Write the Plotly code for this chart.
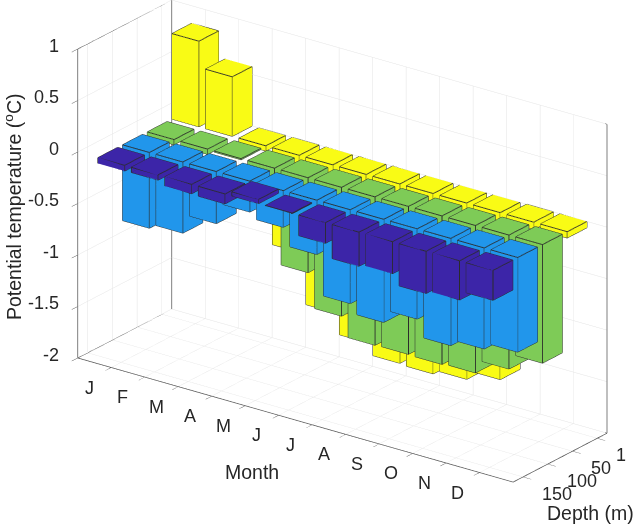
import plotly.graph_objects as go

months = ["J", "F", "M", "A", "M", "J", "J", "A", "S", "O", "N", "D"]
depth_labels = ["1", "50", "100", "150"]
temp_ticks = [-2, -1.5, -1, -0.5, 0, 0.5, 1]
temp_labels = ["-2", "-1.5", "-1", "-0.5", "0", "0.5", "1"]
t_1m = [0.83, 0.577, -0.05, -0.94, -1.43, -1.63, -1.74, -1.75, -1.71, -1.62, -0.07, -0.06]
t_50m = [-0.05, -0.05, -0.01, -0.12, -0.92, -1.25, -1.44, -1.435, -1.44, -1.43, -1.30, -1.15]
t_100m = [-0.735, -0.69, -0.505, -0.30, -0.355, -0.526, -0.91, -1.0, -0.875, -1.04, -0.98, -0.918]
t_150m = [-0.055, -0.05, -0.09, -0.095, 0.04, -0.005, -0.2, -0.33, -0.31, -0.41, -0.38, -0.29]
series = [t_1m, t_50m, t_100m, t_150m]
colors = ["#F9FB15", "#7ECB57", "#2196EB", "#3C25A8"]
EDGE = "#2b2b2b"
W = 0.4
FONT = "Liberation Sans, Arial, sans-serif"
TXT = "#262626"

fig = go.Figure()
for di, (vals, col) in enumerate(zip(series, colors)):
    yc = 4 - di  # depth 1 sits at the back
    X, Y, Z, I, J, K = [], [], [], [], [], []
    ex, ey, ez = [], [], []
    for mi, v in enumerate(vals):
        xc = mi + 1
        lo, hi = min(0, v), max(0, v)
        n = len(X)
        for z in (lo, hi):
            for dx, dy in ((-W, -W), (W, -W), (W, W), (-W, W)):
                X.append(xc + dx); Y.append(yc + dy); Z.append(z)
        quads = [(0, 1, 2, 3), (4, 5, 6, 7), (0, 1, 5, 4), (1, 2, 6, 5), (2, 3, 7, 6), (3, 0, 4, 7)]
        for a, b, c, d in quads:
            I += [n + a, n + a]; J += [n + b, n + c]; K += [n + c, n + d]
        for a, b in [(0, 1), (1, 2), (2, 3), (3, 0), (4, 5), (5, 6), (6, 7), (7, 4), (0, 4), (1, 5), (2, 6), (3, 7)]:
            ex += [X[n + a], X[n + b], None]
            ey += [Y[n + a], Y[n + b], None]
            ez += [Z[n + a], Z[n + b], None]
    fig.add_trace(go.Mesh3d(x=X, y=Y, z=Z, i=I, j=J, k=K, color=col, flatshading=True,
                            lighting=dict(ambient=1, diffuse=0, specular=0, roughness=1, fresnel=0),
                            hoverinfo="skip", showscale=False))
    fig.add_trace(go.Scatter3d(x=ex, y=ey, z=ez, mode="lines", line=dict(color=EDGE, width=1.8),
                               hoverinfo="skip", showlegend=False))

XR, YR, ZR = (0, 13), (0.6, 4.4), (-2, 1)
frame_x = [XR[0], XR[0], XR[1], XR[1], None, XR[0], XR[0], None, XR[1], XR[1], None, XR[0], XR[1]]
frame_y = [YR[0], YR[1], YR[1], YR[0], None, YR[1], YR[1], None, YR[1], YR[1], None, YR[1], YR[1]]
frame_z = [ZR[0], ZR[0], ZR[0], ZR[0], None, ZR[0], ZR[1], None, ZR[0], ZR[1], None, ZR[1], ZR[1]]
fig.add_trace(go.Scatter3d(x=frame_x, y=frame_y, z=frame_z, mode="lines",
                           line=dict(color="#555555", width=1.5), hoverinfo="skip", showlegend=False))
fig.add_trace(go.Scatter3d(x=[XR[0], XR[0], XR[0]], y=[YR[0], YR[0], YR[1]], z=[ZR[0], ZR[1], ZR[1]], mode="lines",
                           line=dict(color="#555555", width=1.5), hoverinfo="skip", showlegend=False))

tf = dict(family=FONT, size=18, color=TXT)
scene_notes = []
for v, s in zip(temp_ticks, temp_labels):
    scene_notes.append(dict(x=XR[0], y=YR[0], z=v, text=s, showarrow=False, font=tf,
                            xanchor="right", xshift=-17, yshift=3))
for v, s in zip(range(1, 13), months):
    scene_notes.append(dict(x=v, y=YR[0], z=ZR[0], text=s, showarrow=False, font=tf,
                            xanchor="center", xshift=-22, yshift=-20))
for v, s in zip([4, 3, 2, 1], depth_labels):
    scene_notes.append(dict(x=XR[1], y=v, z=ZR[0], text=s, showarrow=False, font=tf,
                            xanchor="left", xshift=17, yshift=-17))

axis = dict(showbackground=False, showgrid=True, gridcolor="#e4e4e4", gridwidth=1, zeroline=False,
            showline=True, linecolor="#555555", linewidth=1.5, ticks="outside", ticklen=10, tickcolor="#555555",
            showticklabels=False, title=dict(text=""), showspikes=False)
E = 2.5
C = (-0.0612, -0.0836, -0.0737)
D = (0.549, -0.742, 0.3855)
fig.update_layout(
    width=633, height=524, margin=dict(l=0, r=0, t=0, b=0), showlegend=False,
    paper_bgcolor="white",
    scene=dict(
        domain=dict(x=[0, 1], y=[0, 1]),
        xaxis=dict(axis, range=list(XR), tickmode="array", tickvals=list(range(1, 13))),
        yaxis=dict(axis, range=list(YR), tickmode="array", tickvals=[4, 3, 2, 1]),
        zaxis=dict(axis, range=list(ZR), tickmode="array", tickvals=temp_ticks),
        aspectmode="manual", aspectratio=dict(x=2.067, y=0.603, z=1.278),
        camera=dict(projection=dict(type="orthographic"), up=dict(x=0, y=0, z=1),
                    center=dict(x=C[0], y=C[1], z=C[2]),
                    eye=dict(x=C[0] + D[0] * E, y=C[1] + D[1] * E, z=C[2] + D[2] * E)),
        annotations=scene_notes,
    ),
    annotations=[
        dict(text="Potential temperature (<sup>o</sup>C)", xref="paper", yref="paper", x=13 / 633, y=1 - 207 / 524,
             xanchor="center", yanchor="middle", showarrow=False, textangle=-90,
             font=dict(family=FONT, size=19.5, color=TXT)),
        dict(text="Month", xref="paper", yref="paper", x=252 / 633, y=1 - 472 / 524, xanchor="center",
             yanchor="middle", showarrow=False, font=dict(family=FONT, size=19.5, color=TXT)),
        dict(text="Depth (m)", xref="paper", yref="paper", x=590 / 633, y=1 - 513 / 524, xanchor="center",
             yanchor="middle", showarrow=False, font=dict(family=FONT, size=19.5, color=TXT)),
    ],
)
fig.write_html("out.html", post_script="document.body.style.margin='0';", config={"displayModeBar": False})
